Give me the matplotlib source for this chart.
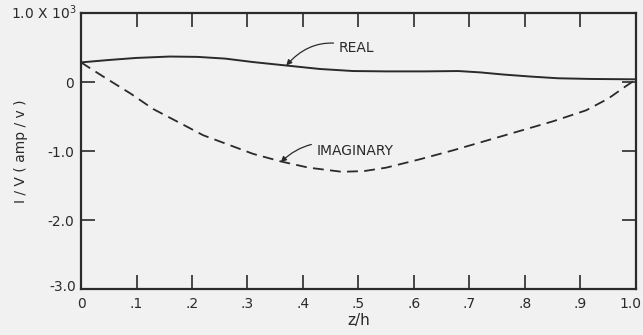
"""Real and imaginary I/V along z/h, redrawn from a scanned figure."""

import matplotlib

matplotlib.use("Agg")
import matplotlib.pyplot as plt
import matplotlib.transforms as mtransforms
from matplotlib.ticker import FixedLocator

# values in units of 10^3 amp/v
z_real = [0.0, 0.05, 0.10, 0.16, 0.21, 0.26, 0.31, 0.37, 0.43, 0.49, 0.55, 0.62, 0.68,
          0.72, 0.76, 0.81, 0.86, 0.92, 1.0]
real = [0.285, 0.32, 0.35, 0.37, 0.365, 0.34, 0.29, 0.24, 0.19, 0.16, 0.155, 0.155, 0.16,
        0.14, 0.11, 0.08, 0.055, 0.045, 0.04]

z_imag = [0.0, 0.04, 0.09, 0.13, 0.18, 0.22, 0.27, 0.31, 0.36, 0.41, 0.47, 0.51, 0.55,
          0.61, 0.67, 0.73, 0.79, 0.85, 0.91, 0.95, 0.98, 1.0]
imag = [0.285, 0.08, -0.17, -0.39, -0.60, -0.77, -0.92, -1.04, -1.15, -1.24, -1.30, -1.29,
        -1.24, -1.12, -0.99, -0.85, -0.71, -0.57, -0.41, -0.24, -0.07, 0.04]

x_ticks = [0, 0.1, 0.2, 0.3, 0.4, 0.5, 0.6, 0.7, 0.8, 0.9, 1.0]
x_tick_labels = ["0", ".1", ".2", ".3", ".4", ".5", ".6", ".7", ".8", ".9", "1.0"]
y_ticks = [0, -1.0, -2.0]
y_tick_labels = ["0", "-1.0", "-2.0"]

ink = "#2a2a2a"
bg = "#f1f1f1"

fig = plt.figure(figsize=(6.43, 3.35), dpi=100, facecolor=bg)
ax = fig.add_axes([0.126, 0.137, 0.863, 0.824], facecolor=bg)

ax.plot(z_real, real, color=ink, lw=1.4)
ax.plot(z_imag, imag, color=ink, lw=1.3, dashes=(6, 3.5))

ax.set_xlim(0, 1.0)
ax.set_ylim(-3.0, 1.0)

for side in ax.spines.values():
    side.set_color(ink)
    side.set_linewidth(1.6)

ax.xaxis.set_major_locator(FixedLocator(x_ticks))
ax.set_xticklabels(x_tick_labels)
ax.yaxis.set_major_locator(FixedLocator(y_ticks))
ax.set_yticklabels(y_tick_labels)
ax.tick_params(axis="x", direction="in", length=10, width=1.2, color=ink,
               top=True, labelsize=10, labelcolor=ink, pad=6)
ax.tick_params(axis="y", direction="in", length=10, width=1.2, color=ink,
               right=True, labelsize=10, labelcolor=ink, pad=5)

# nudge the last x label so it stays inside the figure
last = ax.get_xticklabels()[-1]
last.set_transform(last.get_transform() + mtransforms.ScaledTranslation(-4 / 72, 0, fig.dpi_scale_trans))

# end labels of the y axis sit at the corners
ax.text(-0.008, 1.0, "1.0 X 10$^3$", ha="right", va="center", fontsize=10, color=ink)
ax.text(-0.008, -2.97, "-3.0", ha="right", va="center", fontsize=10, color=ink)

ax.set_xlabel("z/h", fontsize=11, color=ink, labelpad=1)
ax.set_ylabel("I / V ( amp / v )", fontsize=10, color=ink, labelpad=14)

arrow = dict(arrowstyle="-|>", color=ink, lw=0.9, mutation_scale=8,
             shrinkA=2, shrinkB=0, connectionstyle="arc3,rad=0.35")
ax.annotate("REAL", xy=(0.37, 0.24), xytext=(0.465, 0.49), fontsize=10, color=ink,
            ha="left", va="center", arrowprops=arrow)
ax.annotate("IMAGINARY", xy=(0.36, -1.16), xytext=(0.425, -1.0), fontsize=10, color=ink,
            ha="left", va="center", arrowprops=arrow)

fig.savefig("out.png", dpi=100, facecolor=bg)
